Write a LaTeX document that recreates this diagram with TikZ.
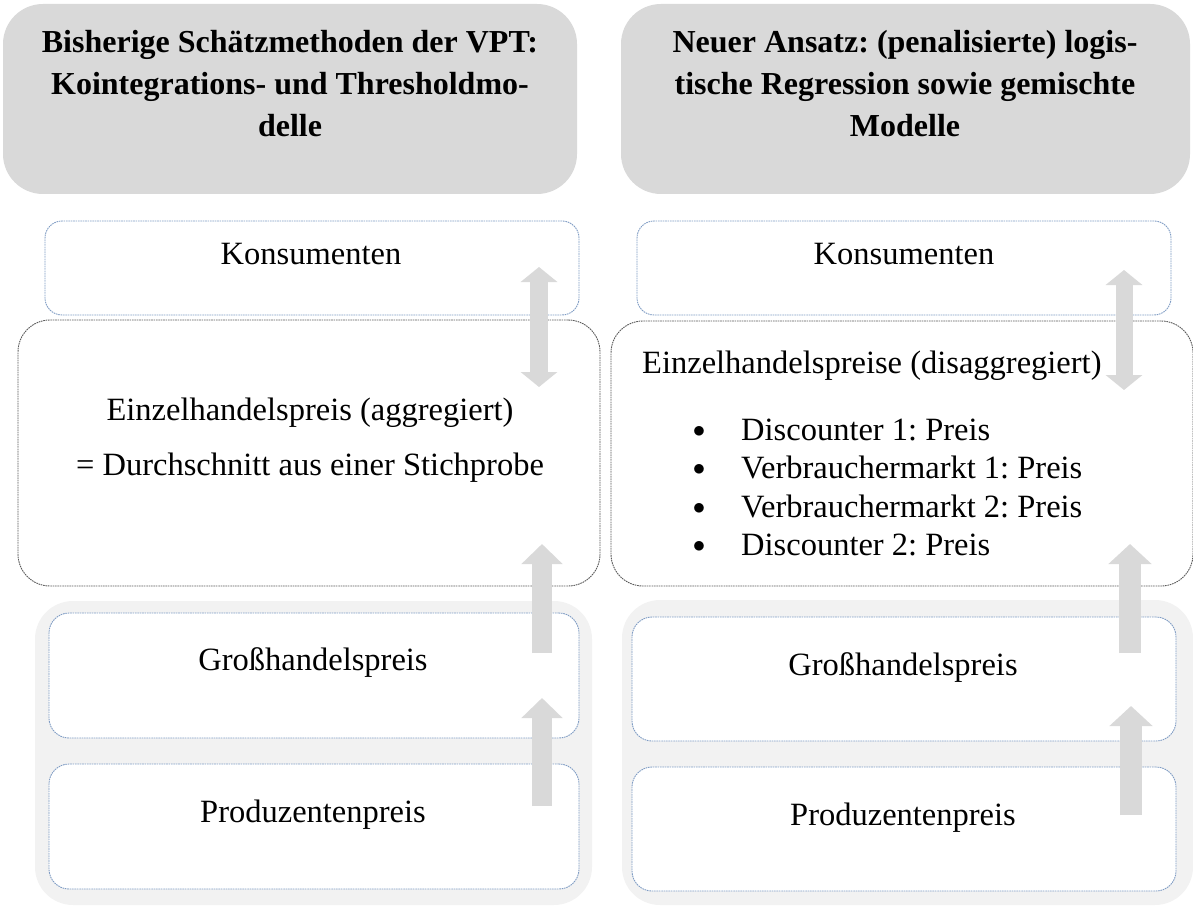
\documentclass[tikz,border=0pt]{standalone}
\usepackage{fontspec}
\setmainfont{Liberation Serif}
\usepackage{xcolor}
\usepackage{tikz}
\usetikzlibrary{arrows.meta}
\definecolor{headgray}{HTML}{D9D9D9}
\definecolor{backgray}{HTML}{F2F2F2}
\definecolor{arrowgray}{HTML}{D9D9D9}
\definecolor{lineblue}{HTML}{7F9CC4}
\definecolor{linedark}{HTML}{5A5A5A}
\tikzset{
  head/.style={fill=headgray, rounded corners=40pt, inner sep=0pt},
  box/.style={draw=lineblue, dash pattern=on 1.6pt off 0.8pt, line width=0.9pt, fill=white, rounded corners=17pt, inner sep=0pt},
  boxd/.style={draw=linedark, dash pattern=on 1.6pt off 0.8pt, line width=0.9pt, fill=white, rounded corners=32pt, inner sep=0pt},
  backg/.style={fill=backgray, rounded corners=38pt, inner sep=0pt},
  lab/.style={font=\fontsize{32.5}{40}\selectfont, inner sep=0pt},
  labh/.style={font=\bfseries\fontsize{32}{42}\selectfont, align=center, inner sep=0pt},
  bul/.style={font=\fontsize{48}{48}\selectfont, inner sep=0pt},
  fat/.style={draw=arrowgray, line width=20pt, -{Triangle[width=40pt,length=20pt]}},
  fatd/.style={draw=arrowgray, line width=18pt, {Triangle[width=36pt,length=15pt]}-{Triangle[width=36pt,length=15pt]}},
}

\begin{document}
\frenchspacing
\begin{tikzpicture}[x=1pt,y=-1pt]
  \useasboundingbox (0,0) rectangle (1193,909);

  % left column
  \node[head, minimum width=574pt, minimum height=190pt] (headL) at (290,99) {};
  \node[labh] (headLt) at (290,84) {Bisherige Schätzmethoden der VPT:\\Kointegrations- und Thresholdmo-\\delle};
  \node[box, minimum width=534pt, minimum height=94pt] (konsL) at (312,268) {};
  \node[lab, anchor=base] (konsLt) at (311,265) {Konsumenten};
  \node[boxd, minimum width=582pt, minimum height=266pt] (einzL) at (309,453) {};
  \node[lab, anchor=base] (einzLt) at (310,420) {Einzelhandelspreis (aggregiert)};
  \node[lab, anchor=base] (einzLs) at (310,475) {= Durchschnitt aus einer Stichprobe};
  \node[backg, minimum width=557pt, minimum height=304pt] (backL) at (313.5,753) {};
  \node[box, rounded corners=20pt, minimum width=530pt, minimum height=125pt] (grossL) at (314,675.5) {};
  \node[lab, anchor=base] (grossLt) at (313,670) {Großhandelspreis};
  \node[box, rounded corners=20pt, minimum width=530pt, minimum height=125pt] (prodL) at (314,826.5) {};
  \node[lab, anchor=base] (prodLt) at (313,822) {Produzentenpreis};

  % right column
  \node[head, minimum width=569pt, minimum height=190pt] (headR) at (905.5,99) {};
  \node[labh] (headRt) at (905,84) {Neuer Ansatz: (penalisierte) logis-\\tische Regression sowie gemischte\\Modelle};
  \node[box, minimum width=534pt, minimum height=94pt] (konsR) at (904,268) {};
  \node[lab, anchor=base] (konsRt) at (904,265) {Konsumenten};
  \node[boxd, minimum width=582pt, minimum height=265pt] (einzR) at (902,453.5) {};
  \node[lab, anchor=base west] (einzRt) at (642,373) {Einzelhandelspreise (disaggregiert)};
  \foreach \txt [count=\i from 0] in {Discounter 1: Preis, Verbrauchermarkt 1: Preis,
      Verbrauchermarkt 2: Preis, Discounter 2: Preis} {
    \node[bul, anchor=base] (dot\i) at (699,437+38.5*\i) {$\bullet$};
    \node[lab, anchor=base west] (item\i) at (741,440+38.5*\i) {\txt};
  }
  \node[backg, minimum width=571pt, minimum height=305pt] (backR) at (907.5,752.5) {};
  \node[box, rounded corners=20pt, minimum width=544pt, minimum height=124pt] (grossR) at (904,679) {};
  \node[lab, anchor=base] (grossRt) at (903,675) {Großhandelspreis};
  \node[box, rounded corners=20pt, minimum width=544pt, minimum height=124pt] (prodR) at (904,829) {};
  \node[lab, anchor=base] (prodRt) at (903,825) {Produzentenpreis};

  % arrows
  \coordinate (dLa) at (539,387);  \coordinate (dLb) at (539,267);
  \coordinate (uLa) at (542,653);  \coordinate (uLb) at (542,544);
  \coordinate (pLa) at (542,806);  \coordinate (pLb) at (542,698);
  \coordinate (dRa) at (1124,390); \coordinate (dRb) at (1124,270);
  \coordinate (uRa) at (1130,653); \coordinate (uRb) at (1130,544);
  \coordinate (pRa) at (1131,815); \coordinate (pRb) at (1131,706);
  \draw[fatd] (dLa) -- (dLb);
  \draw[fat] (uLa) -- (uLb);
  \draw[fat] (pLa) -- (pLb);
  \draw[fatd, line width=17pt] (dRa) -- (dRb);
  \draw[fat, line width=22pt, -{Triangle[width=42pt,length=20pt]}] (uRa) -- (uRb);
  \draw[fat, line width=22pt, -{Triangle[width=42pt,length=20pt]}] (pRa) -- (pRb);
\end{tikzpicture}
\end{document}
